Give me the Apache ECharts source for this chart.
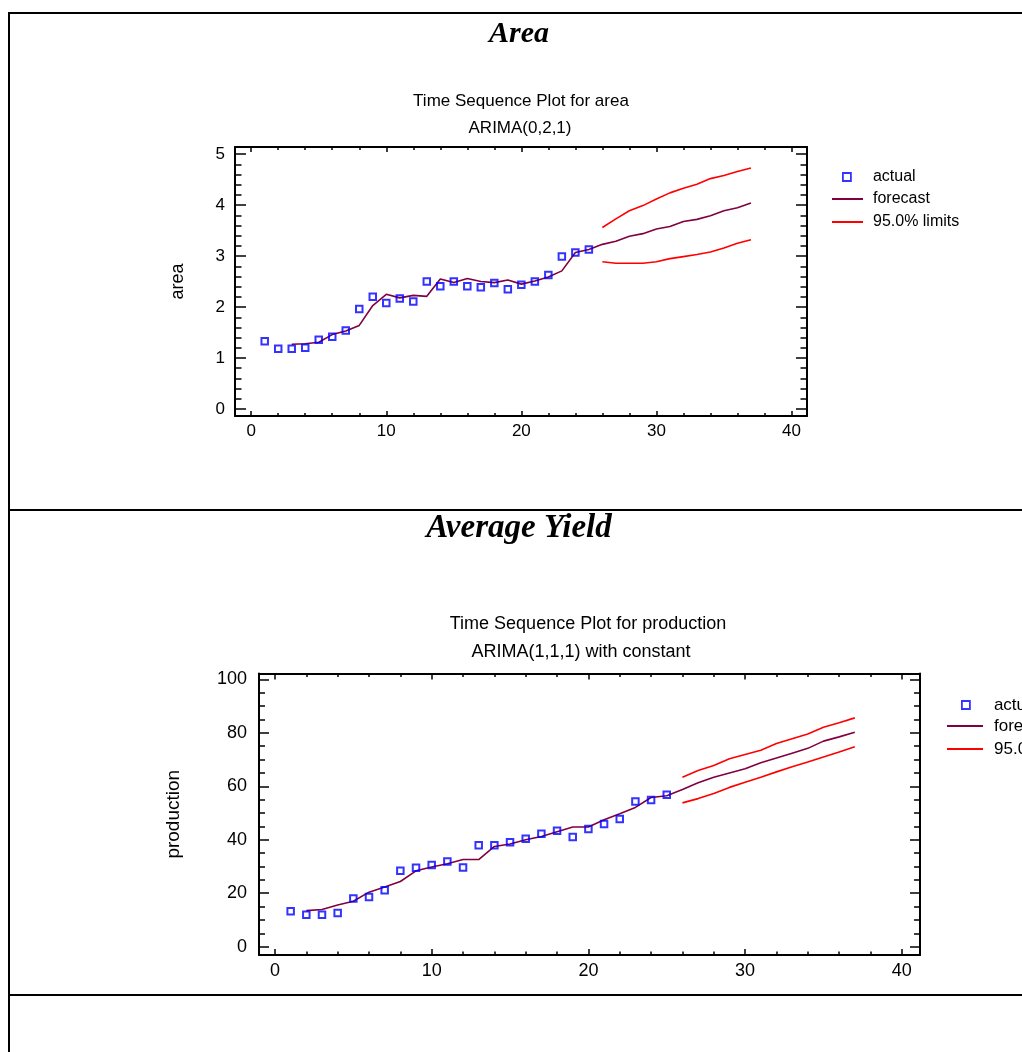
<!DOCTYPE html>
<html><head><meta charset="utf-8">
<script src="https://cdn.jsdelivr.net/npm/echarts@6/dist/echarts.min.js"></script>
<style>html,body{margin:0;padding:0;background:#fff}#c{width:1022px;height:1052px}</style>
</head><body><div id="c"></div>
<script>
// ---------- Area chart data ----------
const areaActualX = [1,2,3,4,5,6,7,8,9,10,11,12,13,14,15,16,17,18,19,20,21,22,23,24,25];
const areaActual = [1.33,1.18,1.18,1.20,1.36,1.42,1.54,1.96,2.20,2.08,2.17,2.11,2.50,2.41,2.50,2.41,2.39,2.47,2.35,2.44,2.50,2.63,2.99,3.07,3.13];
const areaForecastX = [3,4,5,6,7,8,9,10,11,12,13,14,15,16,17,18,19,20,21,22,23,24,25,26,27,28,29,30,31,32,33,34,35,36,37];
const areaForecast = [1.27,1.28,1.31,1.46,1.53,1.64,2.03,2.25,2.18,2.23,2.21,2.55,2.48,2.56,2.50,2.48,2.53,2.45,2.51,2.59,2.71,3.07,3.13,3.23,3.29,3.39,3.44,3.53,3.58,3.68,3.72,3.79,3.89,3.95,4.04];
const areaLimitX = [26,27,28,29,30,31,32,33,34,35,36,37];
const areaUpper = [3.56,3.73,3.89,3.99,4.12,4.24,4.33,4.41,4.52,4.58,4.66,4.73];
const areaLower = [2.89,2.86,2.86,2.86,2.89,2.95,2.99,3.03,3.08,3.16,3.25,3.32];
const areaXMajor = [0,10,20,30,40];
const areaXMinor = [2,4,6,8,12,14,16,18,22,24,26,28,32,34,36,38];
const areaYMajor = [0,1,2,3,4,5];
const areaYMinor = [0.2,0.4,0.6,0.8,1.2,1.4,1.6,1.8,2.2,2.4,2.6,2.8,3.2,3.4,3.6,3.8,4.2,4.4,4.6,4.8];

// ---------- Production chart data ----------
const prodActualX = [1,2,3,4,5,6,7,8,9,10,11,12,13,14,15,16,17,18,19,20,21,22,23,24,25];
const prodActual = [13.3,12.0,12.0,12.6,18.0,18.6,21.1,28.4,29.5,30.6,31.9,29.6,38.0,38.0,39.1,40.4,42.3,43.4,41.0,44.0,45.9,47.8,54.3,54.9,56.8];
const prodForecastX = [2,3,4,5,6,7,8,9,10,11,12,13,14,15,16,17,18,19,20,21,22,23,24,25,26,27,28,29,30,31,32,33,34,35,36,37];
const prodForecast = [13.5,13.9,15.6,17.0,20.4,22.3,24.4,28.4,29.8,31.0,32.6,32.6,37.5,38.4,40.0,41.2,43.0,44.8,44.8,47.5,49.7,52.1,55.8,56.5,58.8,61.3,63.4,65.0,66.6,68.8,70.6,72.4,74.2,76.9,78.5,80.2];
const prodLimitX = [26,27,28,29,30,31,32,33,34,35,36,37];
const prodUpper = [63.4,65.9,67.8,70.3,71.9,73.5,76.0,77.8,79.6,82.1,83.8,85.6];
const prodLower = [53.8,55.4,57.3,59.6,61.5,63.4,65.4,67.3,69.1,71.0,72.8,74.8];
const prodXMajor = [0,10,20,30,40];
const prodXMinor = [2,4,6,8,12,14,16,18,22,24,26,28,32,34,36,38];
const prodYMajor = [0,20,40,60,80,100];
const prodYMinor = [5,10,15,25,30,35,45,50,55,65,70,75,85,90,95];

const legendNames = ['actual','forecast','95.0% limits'];

const FONT = 'Liberation Sans';
const zip = (xs, ys) => xs.map((x, i) => [x, ys[i]]);

function axesFor(dim, grid, min, max, major, minor, majorLen, minorLen, labelSize, labelMargin, name, nameGap, nameSize) {
  const posA = dim === 'x' ? 'bottom' : 'left';
  const posB = dim === 'x' ? 'top' : 'right';
  const base = { type: 'value', gridIndex: grid, min: min, max: max, splitLine: { show: false } };
  const line = { show: true, onZero: false, lineStyle: { color: '#000', width: 2 } };
  const mk = (pos, ticks, len, showLine, labels) => Object.assign({}, base, {
    position: pos,
    axisLine: showLine ? line : { show: false, onZero: false },
    axisTick: { show: true, inside: true, length: len, customValues: ticks, lineStyle: { color: '#000', width: 1.5 } },
    axisLabel: labels ? { show: true, customValues: ticks, color: '#000', fontFamily: FONT, fontSize: labelSize, margin: labelMargin } : { show: false }
  });
  const main = mk(posA, major, majorLen, true, true);
  if (name) {
    main.name = name; main.nameLocation = 'middle'; main.nameGap = nameGap; main.nameMoveOverlap = false;
    main.nameTextStyle = { color: '#000', fontFamily: FONT, fontSize: nameSize };
  }
  return [main, mk(posA, minor, minorLen, false, false), mk(posB, major, majorLen, true, false), mk(posB, minor, minorLen, false, false)];
}

const xAxes = [].concat(
  axesFor('x', 0, -1.2, 41.15, areaXMajor, areaXMinor, 5, 3, 17, 7),
  axesFor('x', 1, -1.02, 41.16, prodXMajor, prodXMinor, 6, 3.5, 18, 7)
);
const yAxes = [].concat(
  axesFor('y', 0, -0.137, 5.14, areaYMajor, areaYMinor, 11, 6.5, 17, 10, 'area', 48, 18),
  axesFor('y', 1, -3.1, 102.2, prodYMajor, prodYMinor, 10, 6, 18, 12, 'production', 76, 19)
);

function seriesFor(xi, yi, aX, aY, fX, fY, lX, up, lo) {
  const lineBase = { type: 'line', xAxisIndex: xi, yAxisIndex: yi, symbol: 'none', smooth: false, animation: false };
  return [
    { name: legendNames[0], type: 'scatter', xAxisIndex: xi, yAxisIndex: yi, data: zip(aX, aY), symbol: 'rect', symbolSize: 6.5,
      itemStyle: { color: 'rgba(0,0,0,0)', borderColor: '#0000ff', borderWidth: 2 }, z: 3, animation: false },
    Object.assign({}, lineBase, { name: legendNames[1], data: zip(fX, fY), lineStyle: { color: '#800040', width: 1.6 }, itemStyle: { color: '#800040' }, z: 2 }),
    Object.assign({}, lineBase, { name: legendNames[2], data: zip(lX, up), lineStyle: { color: '#ff0000', width: 1.6 }, itemStyle: { color: '#ff0000' }, z: 2 }),
    Object.assign({}, lineBase, { name: legendNames[2], data: zip(lX, lo), lineStyle: { color: '#ff0000', width: 1.6 }, itemStyle: { color: '#ff0000' }, z: 2 })
  ];
}

function legendsFor(sqLeft, sqTop, lnLeft, lnTop, lnWidth, padA, padB, fs) {
  const legTxt = { color: '#000', fontFamily: FONT, fontSize: fs, lineHeight: 18 };
  return [
    { orient: 'vertical', left: sqLeft, top: sqTop, padding: 0, itemWidth: 8, itemHeight: 8, selectedMode: false,
      data: [{ name: legendNames[0], icon: 'rect', itemStyle: { color: 'rgba(0,0,0,0)', borderColor: '#0000ff', borderWidth: 1.8 } }],
      textStyle: Object.assign({ padding: [0, 0, 0, padA] }, legTxt) },
    { orient: 'vertical', left: lnLeft, top: lnTop, padding: 0, itemWidth: lnWidth, itemHeight: 14, itemGap: 5, selectedMode: false,
      itemStyle: { opacity: 0 },
      data: [legendNames[1], legendNames[2]],
      textStyle: Object.assign({ padding: [0, 0, 0, padB] }, legTxt) }
  ];
}

const titleTxt = { color: '#000', fontFamily: FONT, fontSize: 17, fontWeight: 'normal' };
const titleTxt2 = Object.assign({}, titleTxt, { fontSize: 18 });
const headTxt = { color: '#000', fontFamily: 'Liberation Serif', fontSize: 30, fontWeight: 'bold', fontStyle: 'italic' };
const headTxt2 = Object.assign({}, headTxt, { fontSize: 33 });

const option = {
  backgroundColor: '#fff',
  animation: false,
  title: [
    { text: 'Area', left: 519, top: 19, textAlign: 'center', textStyle: headTxt, padding: 0 },
    { text: 'Time Sequence Plot for area', left: 521, top: 93, textAlign: 'center', textStyle: titleTxt, padding: 0 },
    { text: 'ARIMA(0,2,1)', left: 520, top: 120, textAlign: 'center', textStyle: titleTxt, padding: 0 },
    { text: 'Average Yield', left: 519, top: 512, textAlign: 'center', textStyle: headTxt2, padding: 0 },
    { text: 'Time Sequence Plot for production', left: 588, top: 615, textAlign: 'center', textStyle: titleTxt2, padding: 0 },
    { text: 'ARIMA(1,1,1) with constant', left: 581, top: 643, textAlign: 'center', textStyle: titleTxt2, padding: 0 }
  ],
  grid: [
    { left: 235, top: 147, width: 572, height: 269, containLabel: false },
    { left: 259, top: 673.5, width: 661, height: 281.5, containLabel: false }
  ],
  xAxis: xAxes,
  yAxis: yAxes,
  legend: [].concat(
    legendsFor(842, 168, 831, 190, 31, 17, 5, 16),
    legendsFor(961, 696, 946, 717, 36, 19, 6, 17)
  ),
  series: [].concat(
    seriesFor(0, 0, areaActualX, areaActual, areaForecastX, areaForecast, areaLimitX, areaUpper, areaLower),
    seriesFor(4, 4, prodActualX, prodActual, prodForecastX, prodForecast, prodLimitX, prodUpper, prodLower)
  ),
  graphic: [
    { type: 'line', shape: { x1: 8, y1: 13, x2: 1022, y2: 13 }, style: { stroke: '#000', lineWidth: 2 } },
    { type: 'line', shape: { x1: 9, y1: 12, x2: 9, y2: 1052 }, style: { stroke: '#000', lineWidth: 2 } },
    { type: 'line', shape: { x1: 8, y1: 510, x2: 1022, y2: 510 }, style: { stroke: '#000', lineWidth: 2 } },
    { type: 'line', shape: { x1: 8, y1: 995, x2: 1022, y2: 995 }, style: { stroke: '#000', lineWidth: 2 } }
  ]
};

const chart = echarts.init(document.getElementById('c'), null, { renderer: 'canvas' });
chart.setOption(option);
</script>
</body></html>
